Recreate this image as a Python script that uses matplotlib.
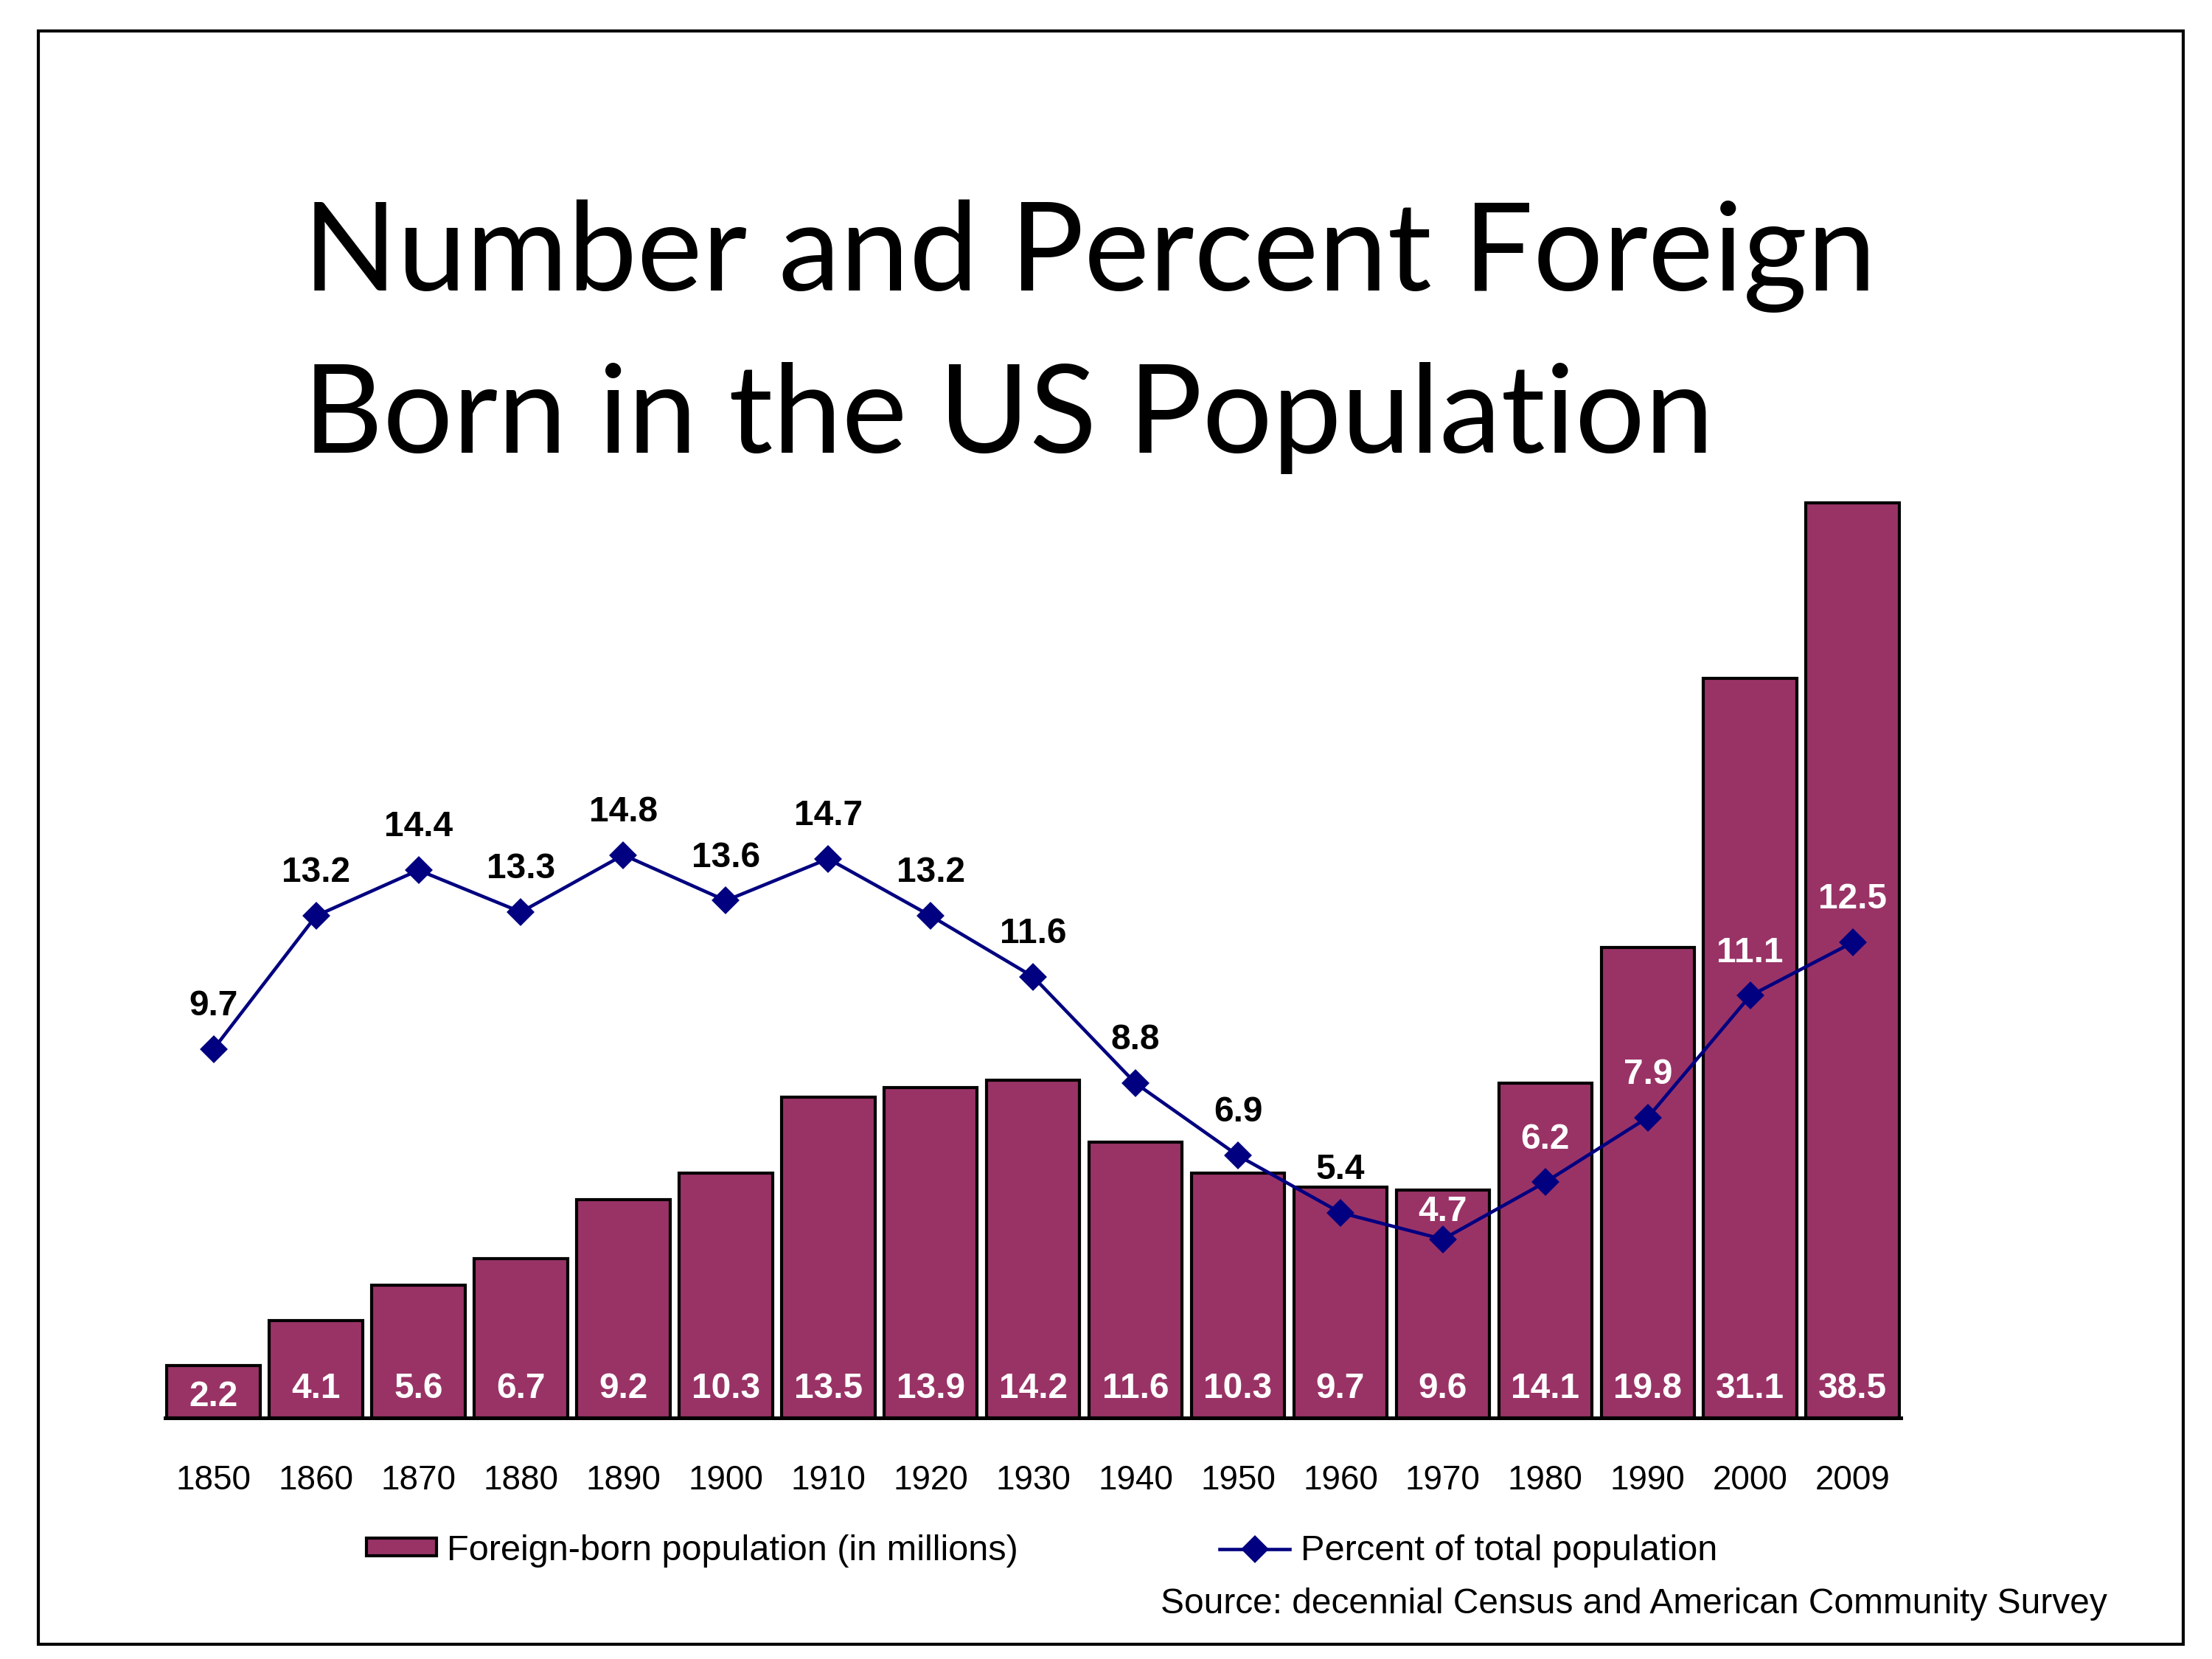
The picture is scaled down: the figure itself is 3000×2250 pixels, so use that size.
import numpy as np
import matplotlib.pyplot as plt
from matplotlib.patches import Rectangle
from matplotlib.lines import Line2D
from matplotlib.patches import Patch

# Data
years = ['1850', '1860', '1870', '1880', '1890', '1900', '1910', '1920', '1930',
         '1940', '1950', '1960', '1970', '1980', '1990', '2000', '2009']
foreign_born = [2.2, 4.1, 5.6, 6.7, 9.2, 10.3, 13.5, 13.9, 14.2,
                11.6, 10.3, 9.7, 9.6, 14.1, 19.8, 31.1, 38.5]
percent = [9.7, 13.2, 14.4, 13.3, 14.8, 13.6, 14.7, 13.2, 11.6,
           8.8, 6.9, 5.4, 4.7, 6.2, 7.9, 11.1, 12.5]

bar_color = '#993366'
line_color = '#000080'
arial = 'Liberation Sans'

fig = plt.figure(figsize=(10, 7.5), dpi=300)

# outer slide frame
fig.patches.append(Rectangle((0.0173, 0.0089), 0.9697, 0.9724, transform=fig.transFigure,
                             fill=False, edgecolor='black', linewidth=1.0))

# title
fig.text(0.137, 0.825, 'Number and Percent Foreign', fontsize=40.2, family='Lato',
         ha='left', va='baseline')
fig.text(0.137, 0.727, 'Born in the US Population', fontsize=40.2, family='Lato',
         ha='left', va='baseline')

ax = fig.add_axes([0.0748, 0.1452, 0.7845, 0.5734])
x = np.arange(len(years))
bars = ax.bar(x, foreign_born, width=0.91, color=bar_color, edgecolor='black', linewidth=1.0)
ax.set_xlim(-0.47, len(years) - 0.53)
ax.set_ylim(0, 40)
ax.set_yticks([])
ax.set_xticks(x)
ax.set_xticklabels(years, family=arial, fontsize=11)
ax.tick_params(axis='x', length=0, pad=15)
for s in ['top', 'left', 'right']:
    ax.spines[s].set_visible(False)
ax.spines['bottom'].set_linewidth(1.2)

for xi, v in zip(x, foreign_born):
    yoff = 9.5 if v > 3 else 7
    ax.annotate(f'{v}', (xi, 0), xytext=(0, yoff), textcoords='offset points',
                ha='center', va='center', color='white', fontsize=11.5,
                fontweight='bold', family=arial)

ax2 = ax.twinx()
ax2.set_ylim(0, 25)
ax2.axis('off')
ax2.plot(x, percent, color=line_color, linewidth=1.1, marker='D', markersize=5.5)

for i, (xi, p) in enumerate(zip(x, percent)):
    col = 'white' if years[i] in ('1970', '1980', '1990', '2000', '2009') else 'black'
    yoff = 9 if years[i] == '1970' else 14
    ax2.annotate(f'{p}', (xi, p), xytext=(0, yoff), textcoords='offset points',
                 ha='center', va='center', color=col, fontsize=11.5,
                 fontweight='bold', family=arial)

handles = [Patch(facecolor=bar_color, edgecolor='black', linewidth=1.0),
           Line2D([], [], color=line_color, linewidth=1.1, marker='D', markersize=5.5)]
fig.legend(handles, ['Foreign-born population (in millions)', 'Percent of total population'],
           loc='center', bbox_to_anchor=(0.471, 0.0653), ncol=2, frameon=False,
           prop={'family': arial, 'size': 11.7}, handlelength=1.95, handleheight=0.38,
           handletextpad=0.3, columnspacing=5.6)

fig.text(0.9525, 0.0329, 'Source: decennial Census and American Community Survey',
         family=arial, fontsize=11.5, ha='right', va='center')

fig.savefig('out.png', dpi=300)
